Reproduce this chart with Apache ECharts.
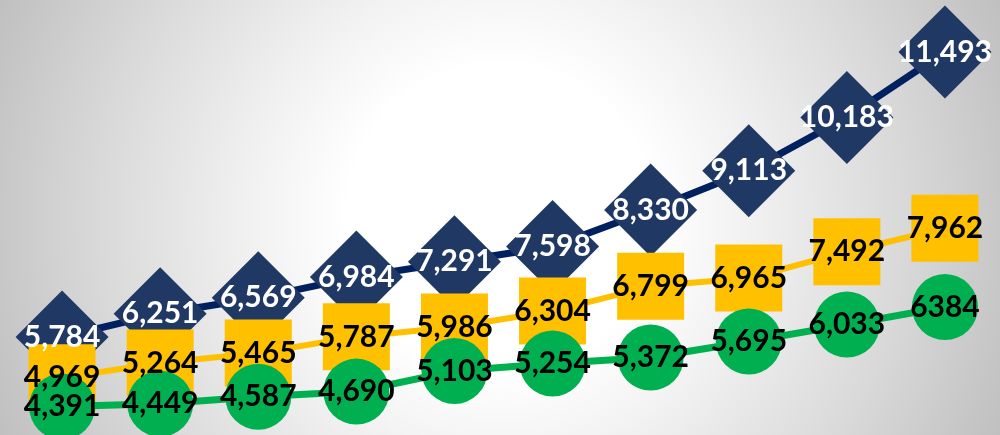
<!DOCTYPE html>
<html>
<head>
<meta charset="utf-8">
<script src="https://cdn.jsdelivr.net/npm/echarts@6/dist/echarts.min.js"></script>
<style>
  html, body { margin: 0; padding: 0; }
  #chart { width: 1000px; height: 435px; }
</style>
</head>
<body>
<div id="chart"></div>
<script>
// Ten periods, three growing series
const categories = ['1', '2', '3', '4', '5', '6', '7', '8', '9', '10'];
const navyValues = [5784, 6251, 6569, 6984, 7291, 7598, 8330, 9113, 10183, 11493];
const yellowValues = [4969, 5264, 5465, 5787, 5986, 6304, 6799, 6965, 7492, 7962];
const greenValues = [4391, 4449, 4587, 4690, 5103, 5254, 5372, 5695, 6033, 6384];
// the final green point is printed without a thousands separator
const ungroupedLabels = { green: [9] };

const chart = echarts.init(document.getElementById('chart'));

function fmt(p) {
  const plain = (ungroupedLabels[p.seriesName] || []).indexOf(p.dataIndex) >= 0;
  return plain ? String(p.value) : p.value.toLocaleString('en-US');
}

const labelFont = {
  fontFamily: 'Lato',
  fontWeight: 'bold',
  fontSize: 30
};

function markerSeries(name, data, symbol, size, markerColor, lineColor, lineWidth, z) {
  return {
    name: name,
    type: 'line',
    data: data,
    symbol: symbol,
    symbolSize: size,
    showSymbol: true,
    z: z,
    lineStyle: { color: lineColor, width: lineWidth },
    itemStyle: { color: markerColor, borderWidth: 0 },
    label: { show: false },
    emphasis: { disabled: true },
    animation: false
  };
}

function labelSeries(name, data, textColor) {
  return {
    name: name,
    type: 'line',
    data: data,
    symbol: 'circle',
    symbolSize: 1,
    showSymbol: true,
    z: 10,
    lineStyle: { width: 0, opacity: 0 },
    itemStyle: { color: 'transparent' },
    label: Object.assign({
      show: true,
      position: 'inside',
      color: textColor,
      formatter: fmt
    }, labelFont),
    emphasis: { disabled: true },
    animation: false
  };
}

chart.setOption({
  backgroundColor: new echarts.graphic.RadialGradient(0.5, 0.5, 1.25, [
    { offset: 0, color: '#ffffff' },
    { offset: 0.28, color: '#ffffff' },
    { offset: 0.45, color: '#f2f2f2' },
    { offset: 0.75, color: '#d8d8d8' },
    { offset: 1, color: '#c0c0c0' }
  ]),
  animation: false,
  grid: { left: 13, right: 6, top: 0, bottom: 0 },
  xAxis: {
    type: 'category',
    data: categories,
    boundaryGap: true,
    show: false
  },
  yAxis: {
    type: 'value',
    min: 3821,
    max: 12535,
    show: false
  },
  series: [
    markerSeries('navy', navyValues, 'diamond', 93, '#203864', '#002060', 7, 2),
    markerSeries('yellow', yellowValues, 'rect', 67, '#FFC000', '#FFC000', 6, 3),
    markerSeries('green', greenValues, 'circle', 66, '#00B050', '#00B050', 7, 4),
    labelSeries('navy', navyValues, '#ffffff'),
    labelSeries('yellow', yellowValues, '#000000'),
    labelSeries('green', greenValues, '#000000')
  ]
});
</script>
</body>
</html>
